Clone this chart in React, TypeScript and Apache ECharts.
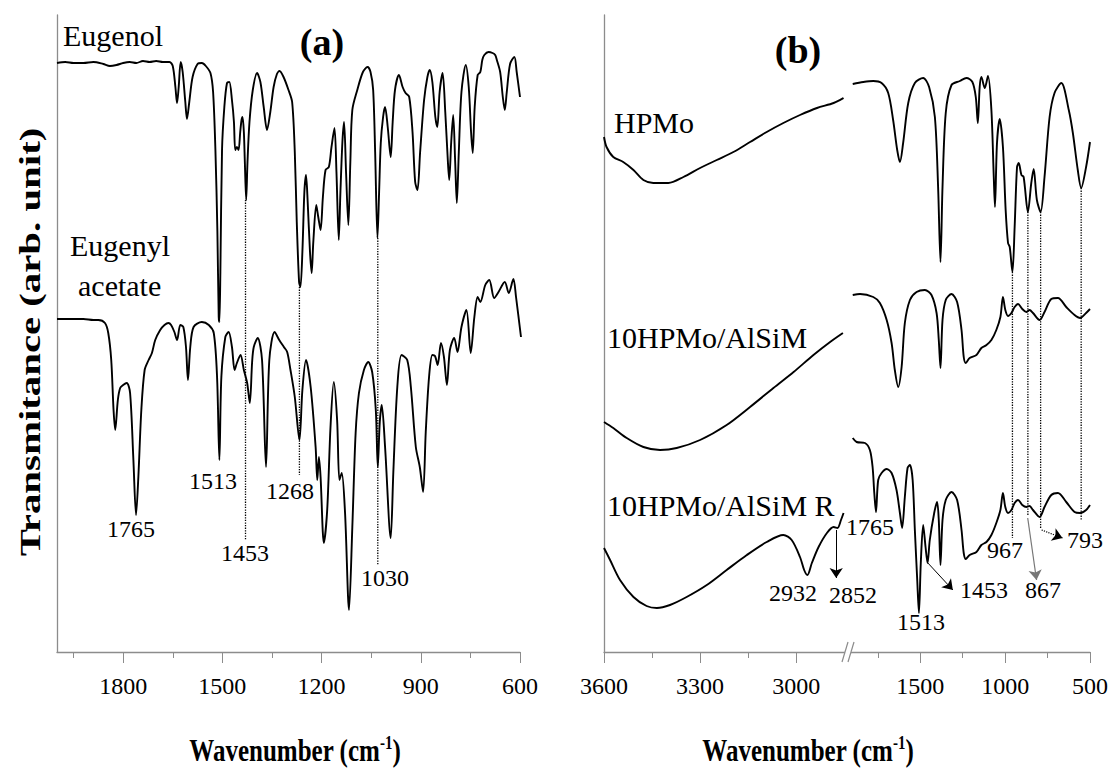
import React, { useEffect, useRef } from 'react';
import * as echarts from 'echarts';

const FONT = '"Liberation Serif", "Times New Roman", Times, serif';
const AXIS_GRAY = '#8c8c8c';

// ---------- Panel (a) ----------
const eugenol: number[][] = [
  [2000, 589], [1975, 590], [1950, 589], [1920, 589], [1890, 590], [1860, 588], [1840, 586], [1820, 587], [1800, 589],
  [1780, 590], [1760, 589], [1740, 591], [1720, 590], [1700, 591], [1680, 590], [1660, 590], [1650, 586], [1642, 565],
  [1637, 549], [1632, 565], [1626, 590], [1620, 580], [1612, 550], [1607, 533], [1600, 550], [1590, 575], [1575, 588],
  [1562, 589], [1550, 586], [1536, 579], [1528, 560], [1521, 502], [1515, 420], [1511, 335], [1509, 330], [1506, 380],
  [1501, 502], [1494, 545], [1486, 569], [1479, 570], [1471, 552], [1465, 530], [1461, 502], [1456, 505], [1451, 502],
  [1446, 520], [1442, 532], [1439, 535], [1435, 520], [1432, 490], [1428, 452], [1424, 490], [1418, 530], [1408, 562],
  [1395, 579], [1385, 570], [1375, 545], [1365, 522], [1355, 540], [1345, 565], [1335, 578], [1327, 581], [1315, 575],
  [1300, 562], [1289, 550], [1281, 500], [1275, 430], [1268, 370], [1264, 365], [1258, 400], [1252, 460], [1247, 477],
  [1242, 450], [1235, 400], [1230, 379], [1225, 410], [1216, 447], [1210, 435], [1203, 422], [1196, 455], [1188, 482],
  [1178, 485], [1170, 505], [1161, 524], [1155, 480], [1148, 412], [1143, 460], [1137, 510], [1132, 530], [1126, 480],
  [1119, 427], [1113, 490], [1107, 542], [1092, 562], [1075, 580], [1061, 585], [1052, 580], [1044, 562], [1038, 500],
  [1031, 414], [1026, 460], [1021, 509], [1014, 535], [1008, 545], [1000, 525], [991, 495], [985, 530], [978, 562],
  [966, 577], [955, 565], [946, 559], [935, 555], [925, 520], [917, 470], [910, 462], [902, 500], [890, 552], [880, 575],
  [873, 582], [865, 570], [856, 535], [850, 525], [843, 560], [834, 579], [826, 540], [818, 490], [814, 472], [808, 510],
  [802, 537], [796, 490], [791, 449], [785, 500], [777, 560], [764, 587], [755, 565], [748, 520], [743, 499], [737, 545],
  [728, 577], [720, 580], [714, 592], [708, 597], [695, 600], [683, 599], [675, 597], [670, 592], [660, 580], [652, 555],
  [646, 542], [640, 560], [630, 588], [617, 595], [610, 580], [600, 555],
];

const eugenylAcetate: number[][] = [
  [2000, 333], [1960, 333], [1920, 333], [1890, 332], [1875, 332], [1855, 329], [1845, 319], [1836, 292], [1829, 242],
  [1824, 222], [1816, 252], [1809, 264], [1800, 267], [1789, 269], [1779, 259], [1769, 192], [1761, 137], [1754, 175],
  [1745, 242], [1735, 282], [1723, 292], [1713, 299], [1703, 312], [1688, 322], [1675, 327], [1663, 329], [1655, 327],
  [1645, 320], [1637, 312], [1627, 327], [1618, 325], [1610, 305], [1604, 272], [1597, 305], [1587, 325], [1562, 330],
  [1541, 327], [1526, 319], [1516, 275], [1509, 192], [1503, 275], [1491, 315], [1481, 320], [1471, 305], [1463, 282],
  [1456, 289], [1445, 297], [1435, 282], [1425, 269], [1417, 249], [1410, 290], [1405, 305], [1393, 314], [1380, 292],
  [1368, 185], [1358, 292], [1342, 320], [1328, 312], [1314, 305], [1304, 300], [1294, 282], [1281, 255], [1267, 212],
  [1258, 262], [1247, 292], [1233, 265], [1218, 205], [1213, 172], [1208, 195], [1203, 175], [1193, 109], [1183, 142],
  [1173, 225], [1163, 270], [1153, 232], [1146, 172], [1139, 179], [1129, 139], [1117, 42], [1107, 125], [1097, 219],
  [1087, 259], [1072, 282], [1059, 290], [1047, 280], [1036, 242], [1030, 185], [1024, 230], [1018, 247], [1008, 205],
  [991, 114], [983, 180], [971, 265], [958, 297], [941, 292], [930, 265], [915, 205], [903, 185], [893, 160], [885, 220],
  [875, 275], [865, 297], [857, 296], [849, 287], [839, 309], [830, 295], [821, 267], [812, 302], [799, 314], [789, 300],
  [777, 325], [762, 342], [749, 299], [738, 335], [728, 355], [720, 350], [705, 367], [693, 372], [678, 354], [665, 360],
  [646, 370], [634, 359], [620, 373], [612, 355], [597, 315],
];

// ---------- Panel (b) ----------
const hpmoHigh: number[][] = [
  [3600, 515], [3592, 505], [3571, 495], [3540, 490], [3508, 482], [3477, 472], [3446, 469], [3399, 469], [3352, 475],
  [3300, 484], [3248, 492], [3196, 500], [3144, 510], [3092, 520], [3040, 529], [2988, 537], [2935, 544], [2883, 549],
  [2852, 554],
];
const hpmoLow: number[][] = [
  [1898, 568], [1836, 570], [1777, 571], [1728, 569], [1689, 559], [1660, 532], [1636, 502], [1620, 490], [1601, 509],
  [1571, 549], [1532, 569], [1483, 574], [1448, 565], [1414, 535], [1395, 465], [1381, 390], [1369, 465], [1350, 539],
  [1316, 567], [1267, 571], [1228, 574], [1193, 570], [1173, 555], [1161, 529], [1150, 565], [1140, 575], [1120, 564],
  [1101, 576], [1081, 542], [1067, 475], [1060, 445], [1048, 509], [1032, 533], [1013, 505], [997, 442], [983, 409],
  [973, 405], [957, 380], [944, 425], [930, 485], [920, 489], [904, 477], [891, 475], [866, 440], [846, 469], [832, 483],
  [813, 452], [791, 440], [768, 475], [738, 535], [709, 559], [669, 569], [625, 542], [601, 519], [572, 482], [552, 464],
  [523, 485], [500, 510],
];
const alsimHigh: number[][] = [
  [3600, 230], [3571, 224], [3529, 214], [3477, 205], [3425, 202], [3373, 204], [3300, 212], [3217, 227], [3144, 245],
  [3071, 264], [3008, 280], [2946, 297], [2894, 310], [2854, 319],
];
const alsimLow: number[][] = [
  [1898, 357], [1855, 358], [1777, 355], [1738, 349], [1698, 332], [1669, 309], [1650, 282], [1630, 265], [1610, 285],
  [1591, 329], [1561, 352], [1522, 360], [1473, 362], [1434, 357], [1404, 339], [1391, 312], [1381, 284], [1369, 332],
  [1350, 352], [1316, 358], [1283, 350], [1257, 322], [1244, 295], [1232, 289], [1209, 294], [1169, 297], [1140, 304],
  [1110, 307], [1081, 312], [1052, 322], [1028, 335], [1013, 355], [999, 342], [983, 336], [963, 339], [944, 345],
  [924, 348], [899, 343], [875, 340], [856, 342], [836, 339], [797, 332], [768, 340], [728, 353], [689, 354], [640, 345],
  [591, 337], [558, 334], [523, 339], [500, 343],
];
const alsimRHigh: number[][] = [
  [3600, 104], [3581, 92], [3550, 72], [3508, 55], [3467, 46], [3435, 44], [3394, 47], [3342, 55], [3279, 67], [3217, 82],
  [3154, 97], [3092, 110], [3040, 117], [3014, 112], [2988, 95], [2975, 82], [2965, 77], [2951, 89], [2930, 105],
  [2904, 119], [2883, 125], [2871, 124], [2860, 132], [2852, 139],
];
const alsimRLow: number[][] = [
  [1898, 214], [1875, 210], [1826, 209], [1797, 202], [1781, 185], [1771, 159], [1761, 140], [1748, 172], [1728, 179],
  [1698, 183], [1669, 179], [1640, 162], [1620, 139], [1607, 124], [1591, 155], [1575, 184], [1561, 187], [1545, 172],
  [1532, 122], [1518, 72], [1508, 39], [1497, 89], [1483, 127], [1469, 105], [1457, 89], [1444, 112], [1418, 139],
  [1401, 150], [1391, 132], [1381, 87], [1369, 132], [1350, 152], [1316, 160], [1283, 152], [1257, 122], [1244, 99],
  [1232, 93], [1209, 97], [1169, 100], [1140, 107], [1110, 110], [1081, 117], [1052, 129], [1028, 142], [1013, 159],
  [999, 145], [983, 139], [963, 142], [944, 149], [924, 152], [899, 147], [875, 145], [856, 146], [836, 142], [797, 135],
  [768, 145], [728, 157], [689, 159], [640, 150], [591, 140], [558, 139], [523, 142], [500, 147],
];

// tick values
const ticksA = [600, 900, 1200, 1500, 1800];
const minorA = [750, 1050, 1350, 1650, 1950];
const ticksB1 = [3000, 3300, 3600];
const minorB1 = [3150, 3450];
const ticksB2 = [500, 1000, 1500];
const minorB2 = [750, 1250, 1750];

// dotted guide lines: [wavenumber, from, to]
const guidesA = [[1430, 452, 112], [1267, 365, 177], [1030, 414, 87]];
const guidesB = [[957, 380, 114], [866, 440, 137], [791, 440, 124], [552, 464, 132]];
// arrows: [x1, y1, x2, y2]
const arrowsB1 = [[2875, 122, 2875, 74]];
const arrowsB2 = [[1455, 89, 1308, 62], [867, 134, 815, 72], [785, 122, 662, 114]];

// peak labels
const peakLabelsA = ['1765', '1513', '1453', '1268', '1030'];
const peakLabelsB = ['1765', '2932', '2852', '1513', '1453', '967', '867', '793'];

export default function App() {
  const ref = useRef<HTMLDivElement>(null);
  useEffect(() => {
    document.body.style.margin = '0';
    const chart = echarts.init(ref.current!, null, { renderer: 'svg' });

    const spec = (name: string, data: number[][], xi: number, yi: number, extra: any = {}) => ({
      type: 'line', name, data, xAxisIndex: xi, yAxisIndex: yi, symbol: 'none', showSymbol: false,
      smooth: 0.3, silent: true, lineStyle: { color: '#000', width: 1.9 }, z: 3, ...extra,
    });
    const guide = (g: number[], xi: number, yi: number) => ({
      type: 'line', data: [[g[0], g[1]], [g[0], g[2]]], xAxisIndex: xi, yAxisIndex: yi, symbol: 'none',
      silent: true, lineStyle: { color: '#000', width: 1.3, type: 'dotted' }, z: 2,
    });
    const arrowStyles = [
      { color: '#000', width: 1, type: 'solid' },
      { color: '#777', width: 1.2, type: 'solid' },
      { color: '#000', width: 1.2, type: 'dotted' },
    ];
    const mk = (arr: number[][], styles: any[]) => ({
      silent: true, symbol: ['none', 'arrow'], symbolSize: 10, label: { show: false }, emphasis: { disabled: true },
      itemStyle: { color: '#000' },
      data: arr.map((a, i) => [
        { coord: [a[0], a[1]], lineStyle: styles[i] },
        { coord: [a[2], a[3]], lineStyle: styles[i], itemStyle: { color: '#000' } },
      ]),
    });

    const fmt = (v: number) => String(v);
    const xMain = (grid: number, min: number, max: number, ticks: number[]) => ({
      type: 'value', gridIndex: grid, min, max, inverse: true, position: 'bottom',
      axisLine: { show: true, lineStyle: { color: AXIS_GRAY, width: 1.3 } },
      axisTick: { show: true, inside: false, length: 11, customValues: ticks, lineStyle: { color: AXIS_GRAY, width: 1 } },
      axisLabel: { show: true, customValues: ticks, formatter: fmt, margin: 22, fontSize: 24, fontFamily: FONT, color: '#000' },
      splitLine: { show: false },
    });
    const xMinor = (grid: number, min: number, max: number, ticks: number[]) => ({
      type: 'value', gridIndex: grid, min, max, inverse: true, position: 'bottom',
      axisLine: { show: false },
      axisTick: { show: true, inside: false, length: 6, customValues: ticks, lineStyle: { color: AXIS_GRAY, width: 1 } },
      axisLabel: { show: false },
      splitLine: { show: false },
    });
    const yAx = (grid: number, line: boolean) => ({
      type: 'value', gridIndex: grid, min: 0, max: 637,
      axisLine: { show: line, lineStyle: { color: AXIS_GRAY, width: 1.3 } },
      axisTick: { show: false }, axisLabel: { show: false }, splitLine: { show: false },
    });

    const txt = (text: string, x: number, y: number, size: number, opts: any = {}) => ({
      type: 'text', x, y, silent: true, z: 10,
      rotation: opts.rotation || 0,
      scaleX: opts.sx || 1,
      scaleY: opts.sy || 1,
      style: {
        text, fontSize: size, fontFamily: FONT, fill: '#000', align: opts.align || 'center',
        verticalAlign: 'middle', fontWeight: opts.bold ? 'bold' : 'normal', rich: opts.rich,
      },
    });

    const pA = [[131, 529], [213, 481], [245, 553], [290, 491], [385, 578]];
    const pB = [[870, 527], [793, 593], [853, 595], [921, 622], [984, 590], [1005, 550], [1043, 590], [1085, 540]];

    const richTitle = {
      s: { fontSize: 15, fontWeight: 'bold', fontFamily: FONT, verticalAlign: 'top', lineHeight: 26 },
    };

    const option: any = {
      animation: false,
      textStyle: { fontFamily: FONT },
      grid: [
        { left: 57, top: 15, width: 463, height: 637 },
        { left: 604, top: 15, width: 245, height: 637 },
        { left: 849, top: 15, width: 241, height: 637 },
      ],
      xAxis: [
        xMain(0, 600, 2000, ticksA), xMinor(0, 600, 2000, minorA),
        xMain(1, 2835, 3600, ticksB1), xMinor(1, 2835, 3600, minorB1),
        xMain(2, 500, 1920, ticksB2), xMinor(2, 500, 1920, minorB2),
      ],
      yAxis: [yAx(0, true), yAx(1, true), yAx(2, false)],
      series: [
        spec('Eugenol', eugenol, 0, 0),
        spec('Eugenyl acetate', eugenylAcetate, 0, 0),
        ...guidesA.map((g) => guide(g, 0, 0)),
        spec('HPMo', hpmoHigh, 2, 1),
        spec('HPMo ', hpmoLow, 4, 2),
        spec('10HPMo/AlSiM', alsimHigh, 2, 1),
        spec('10HPMo/AlSiM ', alsimLow, 4, 2),
        spec('10HPMo/AlSiM R', alsimRHigh, 2, 1, { markLine: mk(arrowsB1, [arrowStyles[0]]) }),
        spec('10HPMo/AlSiM R ', alsimRLow, 4, 2, { markLine: mk(arrowsB2, arrowStyles) }),
        ...guidesB.map((g) => guide(g, 4, 2)),
      ],
      graphic: [
        { type: 'polygon', silent: true, z: 20, shape: { points: [[842, 662], [848, 642], [854, 642], [848, 662]] }, style: { fill: '#fff' } },
        { type: 'line', silent: true, z: 21, shape: { x1: 842, y1: 662, x2: 848, y2: 642 }, style: { stroke: AXIS_GRAY, lineWidth: 1.2 } },
        { type: 'line', silent: true, z: 21, shape: { x1: 848, y1: 662, x2: 854, y2: 642 }, style: { stroke: AXIS_GRAY, lineWidth: 1.2 } },
        txt('(a)', 322, 42, 38, { bold: true }),
        txt('(b)', 798, 50, 38, { bold: true }),
        txt('Eugenol', 63, 35, 30, { align: 'left' }),
        txt('Eugenyl', 70, 245, 30, { align: 'left' }),
        txt('acetate', 78, 285, 30, { align: 'left' }),
        txt('HPMo', 614, 122, 30, { align: 'left' }),
        txt('10HPMo/AlSiM', 607, 337, 30, { align: 'left' }),
        txt('10HPMo/AlSiM R', 607, 505, 30, { align: 'left' }),
        ...peakLabelsA.map((t, i) => txt(t, pA[i][0], pA[i][1], 24)),
        ...peakLabelsB.map((t, i) => txt(t, pB[i][0], pB[i][1], 24)),
        txt('Transmitance (arb. unit)', 30, 342, 30, { bold: true, rotation: Math.PI / 2, sx: 1.36 }),
        txt('Wavenumber (cm{s|-1})', 295, 750, 25, { bold: true, rich: richTitle, sy: 1.3 }),
        txt('Wavenumber (cm{s|-1})', 808, 750, 25, { bold: true, rich: richTitle, sy: 1.3 }),
      ],
    };
    chart.setOption(option);
    return () => chart.dispose();
  }, []);
  return <div ref={ref} style={{ width: 1118, height: 773 }} />;
}
